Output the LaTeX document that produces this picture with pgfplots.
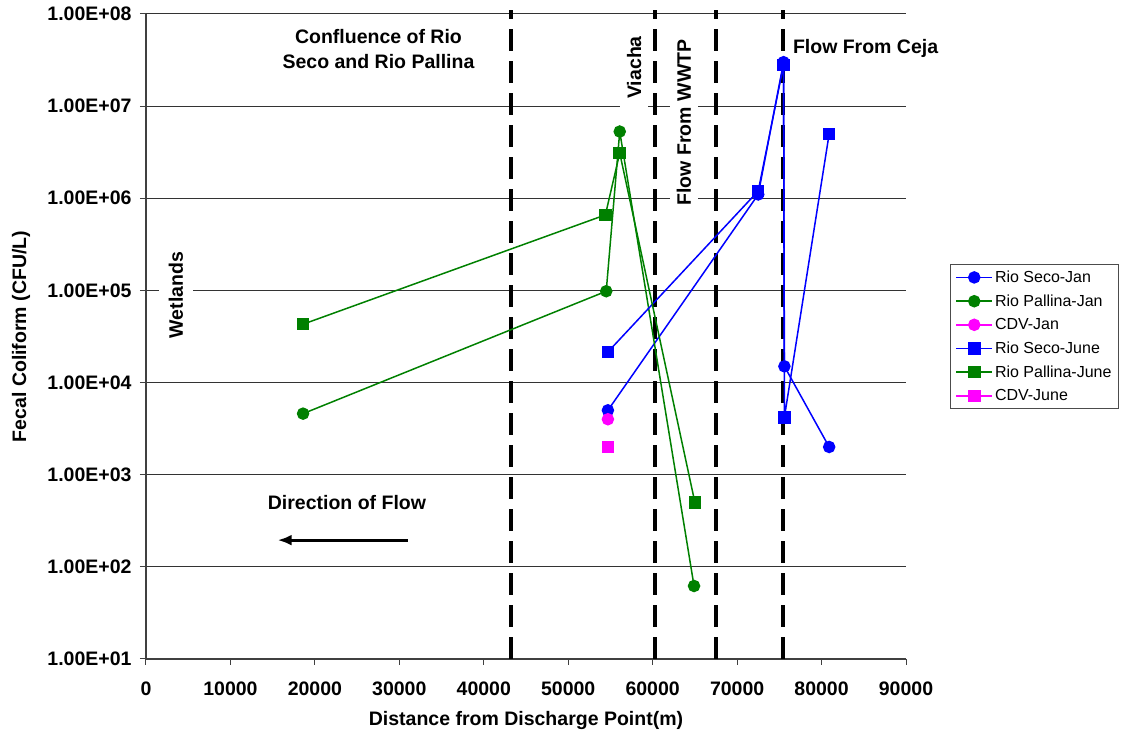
\documentclass[border=0pt]{standalone}
\usepackage{fontspec}
\setmainfont{Liberation Sans}
\usepackage{pgfplots}
\pgfplotsset{compat=1.18}
\usetikzlibrary{arrows.meta}
\definecolor{xlblue}{RGB}{0,0,255}
\definecolor{xlgreen}{RGB}{0,128,0}
\definecolor{xlmag}{RGB}{255,0,255}
\newcommand{\bigb}{\fontsize{19.5}{25}\selectfont\bfseries}
\begin{document}
\begin{tikzpicture}
\begin{axis}[
  width=760pt, height=645pt, scale only axis,
  xmin=0, xmax=90000, ymode=log, ymin=10, ymax=1e8,
  axis x line*=bottom, axis y line*=left,
  axis line style={black!75, line width=1.2pt},
  clip=false,
  scaled x ticks=false,
  xtick={0,10000,20000,30000,40000,50000,60000,70000,80000,90000},
  xticklabels={0,10000,20000,30000,40000,50000,60000,70000,80000,90000},
  ytick={1e1,1e2,1e3,1e4,1e5,1e6,1e7,1e8},
  yticklabels={1.00E+01,1.00E+02,1.00E+03,1.00E+04,1.00E+05,1.00E+06,1.00E+07,1.00E+08},
  minor ytick={}, yminorticks=false,
  tick align=outside, major tick length=6pt,
  tick style={black!75, line width=1pt},
  ticklabel style={font=\bigb},
  yticklabel style={xshift=-5pt},
  xticklabel style={yshift=-13pt},
  ymajorgrids, major grid style={black!80, line width=1pt},
  xlabel={Distance from Discharge Point(m)},
  ylabel={Fecal Coliform (CFU/L)},
  label style={font=\bigb},
  xlabel style={at={(axis description cs:0.5,-0.0946)}, anchor=center},
  ylabel style={at={(axis description cs:-0.1645,0.5)}, anchor=center},
  legend style={at={(1,0.5)}, xshift=44pt, anchor=west, draw=black!70, line width=1pt,
    font=\fontsize{16}{20}\selectfont, inner xsep=5pt, inner ysep=4pt, row sep=6.7pt},
  legend cell align=left,
  legend image code/.code={\draw[mark repeat=2,mark phase=2] plot coordinates {(0pt,0pt) (18pt,0pt) (36pt,0pt)};},
]
\coordinate (SW) at (rel axis cs:0,0);
\coordinate (NE) at (rel axis cs:1,1);
% annotations
\node[font=\bigb, align=center] at (axis cs:27530,4.12e7) {Confluence of Rio\\Seco and Rio Pallina};
\node[font=\bigb, rotate=90, fill=white, inner xsep=9pt, inner ysep=7pt] at (axis cs:57800,2.63e7) {Viacha};
\node[font=\bigb, rotate=90, fill=white, inner xsep=6pt, inner ysep=7pt] at (axis cs:63710,6.64e6) {Flow From WWTP};
\node[font=\bigb, anchor=west] at (axis cs:76200,4.2e7) {Flow From Ceja};
\node[font=\bigb, rotate=90, fill=white, inner xsep=4pt, inner ysep=10pt] at (axis cs:3550,8.9e4) {Wetlands};
\node[font=\bigb] at (axis cs:23800,5.0e2) {Direction of Flow};
% dashed separators
\addplot[forget plot, black, line width=4.5pt, dash pattern=on 22pt off 10pt] coordinates {(43200,10) (43200,1.1e8)};
\addplot[forget plot, black, line width=4.5pt, dash pattern=on 22pt off 10pt] coordinates {(60250,10) (60250,1.1e8)};
\addplot[forget plot, black, line width=4.5pt, dash pattern=on 22pt off 10pt] coordinates {(67500,10) (67500,1.1e8)};
\addplot[forget plot, black, line width=4.5pt, dash pattern=on 22pt off 10pt] coordinates {(75450,10) (75450,1.1e8)};
% arrow
\addplot[forget plot, black, line width=3pt, -{Latex[length=14pt,width=11pt]}] coordinates {(31000,195) (15600,195)};
% data
\addplot[xlblue, line width=1.5pt, mark=*, mark size=5.5pt] coordinates {
 (54700,5000) (72500,1.1e6) (75500,3.0e7) (75600,1.5e4) (80900,2000)};
\addlegendentry{Rio Seco-Jan}
\addplot[xlgreen, line width=1.5pt, mark=*, mark size=5.5pt] coordinates {
 (18600,4600) (54500,9.8e4) (56100,5.3e6) (64900,62)};
\addlegendentry{Rio Pallina-Jan}
\addplot[xlmag, line width=1.5pt, mark=*, mark size=5.5pt] coordinates {
 (54700,4000)};
\addlegendentry{CDV-Jan}
\addplot[xlblue, line width=1.5pt, mark=square*, mark size=5.5pt] coordinates {
 (54700,2.15e4) (72500,1.2e6) (75500,2.8e7) (75600,4200) (80900,5.0e6)};
\addlegendentry{Rio Seco-June}
\addplot[xlgreen, line width=1.5pt, mark=square*, mark size=5.5pt] coordinates {
 (18600,4.3e4) (54400,6.6e5) (56100,3.1e6) (65000,500)};
\addlegendentry{Rio Pallina-June}
\addplot[xlmag, line width=1.5pt, mark=square*, mark size=5.5pt] coordinates {
 (54700,2000)};
\addlegendentry{CDV-June}
\end{axis}
\pgfresetboundingbox
\path ([shift={(-146pt,-81pt)}]SW) rectangle ([shift={(219pt,14pt)}]NE);
\end{tikzpicture}
\end{document}
